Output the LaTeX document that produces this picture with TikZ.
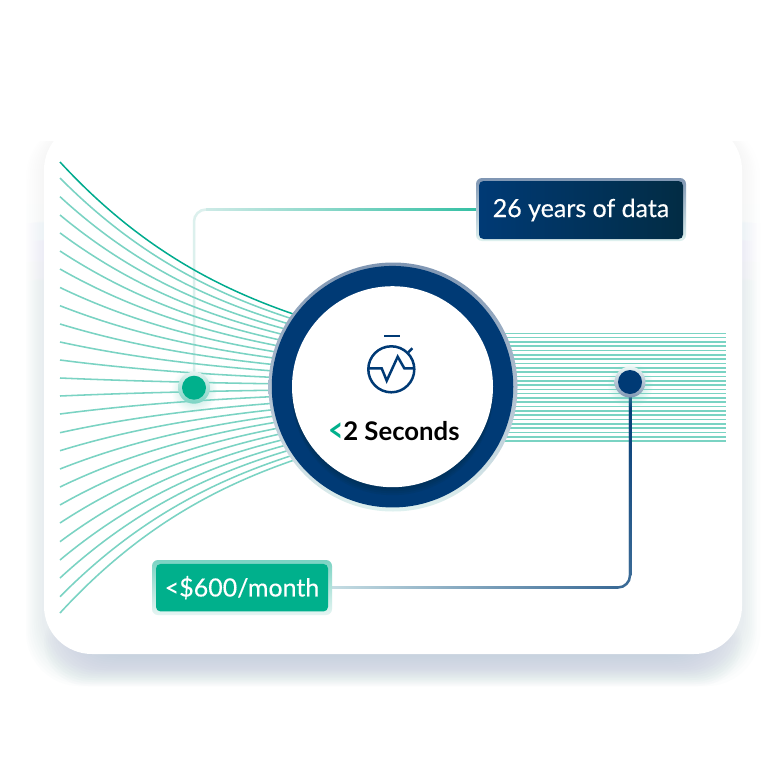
\documentclass[tikz,border=0pt]{standalone}
\usepackage{fontspec}
\setmainfont{Lato}
\newfontfamily\tagfont[FakeBold=0.35]{Lato}
\usetikzlibrary{calc,fadings}
\tikzfading[name=dotglowfade,inner color=transparent!30,outer color=transparent!100]
\pgfdeclareverticalshading{sideshadowsh}{100bp}{color(0bp)=(pgftransparent!0); color(25bp)=(pgftransparent!0); color(60bp)=(pgftransparent!0); color(69bp)=(pgftransparent!75); color(75bp)=(pgftransparent!100); color(100bp)=(pgftransparent!100)}
\pgfdeclarefading{sideshadowfade}{\pgfuseshading{sideshadowsh}}
\definecolor{navy}{HTML}{003A75}
\definecolor{navyend}{HTML}{022C44}
\definecolor{tealfill}{HTML}{00B08C}
\definecolor{tealdark}{HTML}{00AB8E}
\definecolor{fanline}{HTML}{7AD3C3}
\definecolor{shadowc}{HTML}{A9BAD0}
\definecolor{paleline}{HTML}{CDEAE6}
\definecolor{haloT}{HTML}{7F96B3}
\definecolor{haloM}{HTML}{AEBECF}
\definecolor{haloB}{HTML}{DFF1EF}
\definecolor{connmid}{HTML}{3A6A96}
\definecolor{connpale}{HTML}{C5DDE3}
\definecolor{connteal}{HTML}{35C0A4}
\pgfdeclarelayer{back}\pgfdeclarelayer{conna}\pgfdeclarelayer{fan}\pgfdeclarelayer{connb}
\pgfsetlayers{back,conna,fan,connb,main}
\tikzset{
 halo/.style={circle,inner sep=0pt,draw=none},
 glow/.style={circle,inner sep=0pt,draw=none,fill=fanline,path fading=dotglowfade},
 tag/.style={rectangle,rounded corners=6pt,inner sep=0pt,draw=none},
 tagtext/.style={rectangle,rounded corners=4.5pt,inner sep=0pt,draw=none,text=white,font=\tagfont\fontsize{25}{28}\selectfont},
 fanstroke/.style={draw=fanline,line width=1.55pt},
 connstroke/.style={line width=2.5pt,rounded corners=12pt},
 iconstroke/.style={draw=navy,line width=2.5pt},
}
\begin{document}
\begin{tikzpicture}[x=1pt,y=-1pt]
\useasboundingbox (0,0) rectangle (784,776);
\begin{pgfonlayer}{back}
 \fill[white] (0,0) rectangle (784,776);
 \foreach \e in {18,16,...,2}
  \fill[shadowc,opacity=.028,rounded corners=54pt,path fading=sideshadowfade,fit fading=true] ({44-\e},122) rectangle ({742+\e},{668+\e});
 \foreach \e in {18,16,...,-14}
  \fill[shadowc,opacity=.03,rounded corners=44pt] ({62-\e},600) rectangle ({724+\e},{668+\e});
 \fill[white,rounded corners=48pt] (44,122) rectangle (742,654);
\end{pgfonlayer}

% fan of lines
\begin{pgfonlayer}{fan}
 \foreach \y in {178,196.7,215,232.9,251,269,287.5,305.7,324,342,360,378,396,414,432.7,450.7,469,487,505,523,541.7,560,578,596.7,613}
  \draw[fanstroke] (60,\y) .. controls (146.67,{387+(\y-387)*.582}) and (233.33,{387+(\y-387)*.4049}) .. (320,{387+(\y-387)*.2856});
 \draw[draw=tealdark,line width=1.5pt] (60,162) .. controls (146.67,{387-225*.582}) and (233.33,{387-225*.4049}) .. (320,{387-225*.2856});
 \foreach \i in {0,...,25}
  \draw[draw=fanline,line width=1.6pt] (505,{333.3+4.31*\i}) -- (726,{333.3+4.31*\i});
\end{pgfonlayer}

% central ring
\node[halo,minimum size=249pt,top color=haloT,bottom color=haloB,middle color=haloM] (ringhalo) at (393,387) {};
\node[halo,minimum size=241.5pt,fill=navy] (ring) at (392.5,386.7) {};
\foreach \d in {2,4,6,8}
 \fill[navyend,opacity=.14] (392.5,{386.7+\d}) circle[radius=100.5];
\node[halo,minimum size=201pt,fill=white] (disc) at (392.5,386.7) {};

% stopwatch icon
\draw[iconstroke] (391.3,369.3) circle[radius=23];
\draw[iconstroke] (384,336) -- (400,336);
\draw[iconstroke] (408.3,352.3) -- (412.3,348.3);
\draw[iconstroke,line join=miter] (369,368.3) -- (381.7,368.3) -- (386.7,380.7) -- (397.7,356.7) -- (404.3,368.3) -- (414,368.3);

\node[inner sep=0pt,font=\fontsize{25.7}{28}\selectfont\bfseries,text=black] (secs) at (394,432) {\textcolor{tealfill}{\raisebox{-2.6pt}{\scalebox{1}[1.35]{<}}}2 Seconds};

% dots
\node[glow,minimum size=46pt] (dotAglow) at (194,390) {};
\node[halo,minimum size=32pt,top color=paleline!60,bottom color=fanline] (dotAhalo) at (194,387.7) {};
\node[halo,minimum size=24pt,fill=tealfill] (dotA) at (194,387.7) {};
\node[glow,minimum size=46pt] (dotBglow) at (630,385) {};
\node[halo,minimum size=31pt,top color=paleline!40,bottom color=haloT] (dotBhalo) at (630,382) {};
\node[halo,minimum size=24pt,fill=navy] (dotB) at (630,382) {};

% tags
\node[tag,minimum width=210pt,minimum height=63pt,top color=haloT,bottom color=haloB] (tagA) at (581,209.5) {};
\node[tagtext,minimum width=204pt,minimum height=58pt,left color=navy,right color=navyend] (tagAtext) at (581,210) {26 years of data};
\node[tag,minimum width=180pt,minimum height=55pt,top color=fanline,bottom color=paleline!50] (tagB) at (242,587.5) {};
\node[tagtext,minimum width=172pt,minimum height=47.5pt,fill=tealfill] (tagBtext) at (242,587.7) {<\$600/month};

% connectors
\begin{pgfonlayer}{conna}
 \draw[connstroke,draw=paleline!70] (dotAhalo.north) |- (tagA.west);
 \shade[left color=paleline,right color=connteal] ($(dotA.center |- tagA.west)+(12,-1.25)$) rectangle ($(tagA.west)+(0,1.25)$);
\end{pgfonlayer}
\begin{pgfonlayer}{connb}
 \draw[connstroke,draw=connmid] (dotB.south) |- (tagB.east);
 \shade[left color=connpale,right color=connmid] ($(tagB.east)+(0,-1.25)$) rectangle ($(dotB.center |- tagB.east)+(-12,1.25)$);
 \shade[top color=navy,bottom color=connmid] ($(dotB.south)+(-1.25,0)$) rectangle ($(dotB.center |- tagB.east)+(1.25,-12)$);
\end{pgfonlayer}
\end{tikzpicture}
\end{document}
